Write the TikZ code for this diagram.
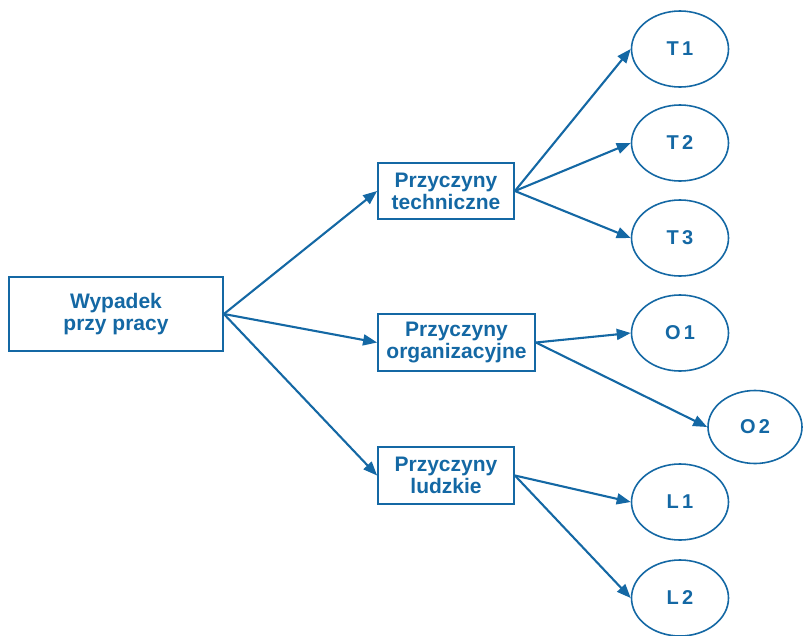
\documentclass[tikz,border=0pt]{standalone}
\usepackage{fontspec}
\setmainfont{Liberation Sans}
\usetikzlibrary{arrows.meta,shapes.geometric}
\definecolor{blu}{RGB}{20,104,164}
\begin{document}
\begin{tikzpicture}[x=1pt,y=-1pt,
  box/.style={draw=blu, line width=1.8pt, align=center, inner sep=0pt,
    font=\fontsize{21}{22}\selectfont\bfseries, text=blu},
  ell/.style={ellipse, draw=blu, line width=1.6pt, inner sep=0pt,
    minimum width=97pt, minimum height=76pt,
    font=\fontsize{20}{22}\selectfont\bfseries, text=blu},
  arr/.style={draw=blu, line width=2.1pt, -{Triangle[length=14pt,width=11pt]}}]
\useasboundingbox (0,0) rectangle (803,635);
\node[box, minimum width=214pt, minimum height=74pt] (w) at (116,314) {Wypadek\\przy pracy};
\node[box, minimum width=136pt, minimum height=56pt] (t) at (446,191) {Przyczyny\\techniczne};
\node[box, minimum width=157pt, minimum height=57pt] (o) at (456.5,342.5) {Przyczyny\\organizacyjne};
\node[box, minimum width=136pt, minimum height=57pt] (l) at (446,475.5) {Przyczyny\\ludzkie};
\node[ell] (t1) at (680,49) {T\,1};
\node[ell] (t2) at (680,143) {T\,2};
\node[ell] (t3) at (680,238) {T\,3};
\node[ell] (o1) at (680,333) {O\,1};
\node[ell, minimum width=94pt, minimum height=73pt] (o2) at (755,427) {O\,2};
\node[ell] (l1) at (680,502) {L\,1};
\node[ell] (l2) at (680,598) {L\,2};
\draw[arr] (w.east) -- (t.west);
\draw[arr] (w.east) -- (o.west);
\draw[arr] (w.east) -- (l.west);
\draw[arr] (t.east) -- (t1.west);
\draw[arr] (t.east) -- (t2.west);
\draw[arr] (t.east) -- (t3.west);
\draw[arr] (o.east) -- (o1.west);
\draw[arr] (o.east) -- (o2.west);
\draw[arr] (l.east) -- (l1.west);
\draw[arr] (l.east) -- (l2.west);
\end{tikzpicture}
\end{document}
